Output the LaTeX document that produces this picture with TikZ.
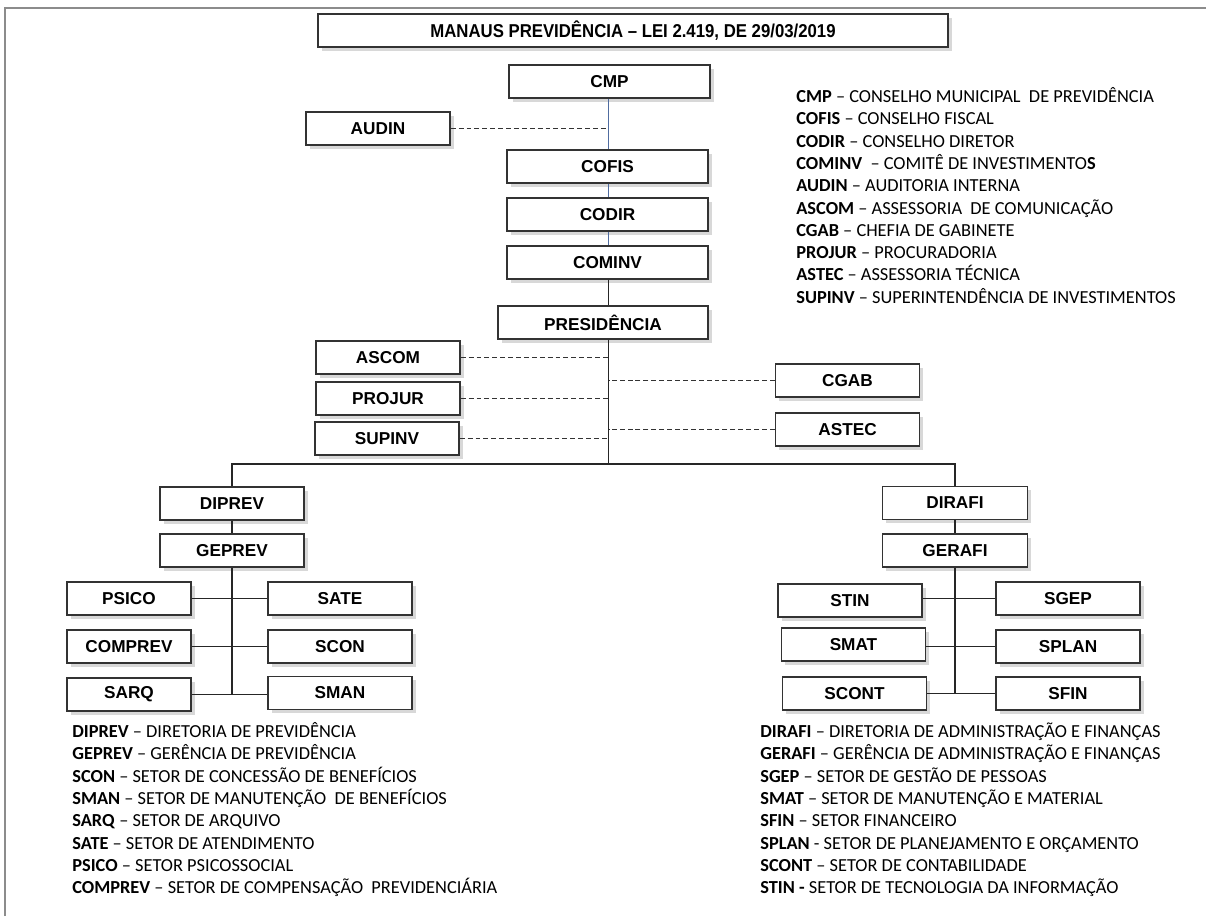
\documentclass[tikz,border=0pt]{standalone}
\usepackage{fontspec}
\setmainfont{Liberation Sans}
\newfontfamily\legfont{Carlito}
\newfontfamily\titlefont[FakeStretch=0.9]{Liberation Sans}
\usepackage{tikz}
\usepackage{xcolor}
\usetikzlibrary{positioning, shadows}
\definecolor{linkblue}{RGB}{80,108,160}
\definecolor{framegray}{RGB}{140,140,140}

\begin{document}
\begin{tikzpicture}[
            x=0.02cm, y=-0.02cm,
            box/.style={draw=black!80, line width=0.8pt, fill=white, minimum height=0.66cm, inner sep=0pt,
                font=\fontsize{9.8}{11}\selectfont\bfseries,
                drop shadow={shadow xshift=2.2pt, shadow yshift=-2.2pt, fill=black!30}},
            wide/.style={box, minimum width=4.02cm},
            mid/.style={box, minimum width=2.88cm},
            small/.style={box, minimum width=2.48cm},
            link/.style={line width=0.6pt, black!85},
            bluelink/.style={line width=0.6pt, linkblue},
            dashlink/.style={line width=0.6pt, black!80, dash pattern=on 2.8pt off 1.7pt},
            legend/.style={anchor=base west, inner sep=0pt, font=\legfont\fontsize{10.45}{12}\selectfont},
        ]
            \useasboundingbox (0,0) rectangle (1206,916);
            \draw[framegray, line width=1.2pt] (5,916) -- (5,8) -- (1206,8);

            \node[box, minimum width=12.6cm, font=\titlefont\fontsize{10.6}{12}\selectfont\bfseries] (title) at (633,30.5) {MANAUS PREVIDÊNCIA – LEI 2.419, DE 29/03/2019};

            \node[wide] (cmp) at (609.5,81.5) {CMP};
            \node[mid] (audin) at (378,128.5) {AUDIN};
            \node[wide] (cofis) at (607.5,166.5) {COFIS};
            \node[wide] (codir) at (607.5,214.5) {CODIR};
            \node[wide] (cominv) at (607.5,262.5) {COMINV};
            \node[box, minimum width=4.2cm] (presid) at (603,322.5) {PRESIDÊNCIA};

            \node[mid] (ascom) at (388,357.5) {ASCOM};
            \node[mid] (projur) at (388,398.5) {PROJUR};
            \node[mid] (supinv) at (387,438.5) {SUPINV};
            \node[mid] (cgab) at (847.5,380.5) {CGAB};
            \node[mid] (astec) at (847.5,429.5) {ASTEC};

            \coordinate (hub) at (608.5,464);

            \node[mid] (diprev) at (232,503.5) {DIPREV};
            \node[mid] (geprev) at (232,550.5) {GEPREV};
            \node[small] (psico) at (129,598.5) {PSICO};
            \node[small] (comprev) at (129,646.5) {COMPREV};
            \node[small] (sarq) at (129,694.5) {SARQ};
            \node[mid] (sate) at (340,598.5) {SATE};
            \node[mid] (scon) at (340,646.5) {SCON};
            \node[mid] (sman) at (340,693) {SMAN};

            \node[box, minimum width=2.9cm] (dirafi) at (955,503) {DIRAFI};
            \node[box, minimum width=2.9cm] (gerafi) at (955,550.5) {GERAFI};
            \node[mid] (stin) at (850,600.5) {STIN};
            \node[mid] (smat) at (853.5,644.5) {SMAT};
            \node[mid] (scont) at (854.5,693.5) {SCONT};
            \node[mid] (sgep) at (1068,598.5) {SGEP};
            \node[mid] (splan) at (1068,646.5) {SPLAN};
            \node[mid] (sfin) at (1068,693.5) {SFIN};

            \draw[bluelink] (cmp.south -| hub) -- (cofis.north -| hub);
            \draw[bluelink] (cofis.south -| hub) -- (codir.north -| hub);
            \draw[bluelink] (codir.south -| hub) -- (cominv.north -| hub);
            \draw[link] (cominv.south -| hub) -- (presid.north -| hub);
            \draw[link] (presid.south -| hub) -- (hub);
            \draw[link] (diprev.north) |- (hub) -| (dirafi.north);

            \draw[dashlink] (audin.east) -- (audin.east -| hub);
            \draw[dashlink] (ascom.east) -- (ascom.east -| hub);
            \draw[dashlink] (projur.east) -- (projur.east -| hub);
            \draw[dashlink] (supinv.east) -- (supinv.east -| hub);
            \draw[dashlink] (cgab.west) -- (cgab.west -| hub);
            \draw[dashlink] (astec.west) -- (astec.west -| hub);

            \draw[link] (diprev) -- (geprev);
            \draw[link] (geprev.south) -- (geprev.south |- sarq.east);
            \draw[link] (psico) -- (sate);
            \draw[link] (comprev) -- (scon);
            \draw[link] (sarq) -- (sman.west |- sarq.east);

            \draw[link] (dirafi) -- (gerafi);
            \draw[link] (gerafi.south) -- (gerafi.south |- sfin.west);
            \draw[link] (stin.east |- sgep.west) -- (sgep);
            \draw[link] (smat.east |- splan.west) -- (splan);
            \draw[link] (scont.east |- sfin.west) -- (sfin);

            \foreach \ab/\txt [count=\i from 0] in {
                CMP/– CONSELHO MUNICIPAL\ \ DE PREVIDÊNCIA,
                COFIS/– CONSELHO FISCAL,
                CODIR/– CONSELHO DIRETOR,
                COMINV/\ – COMITÊ DE INVESTIMENTO\textbf{S},
                AUDIN/– AUDITORIA INTERNA,
                ASCOM/– ASSESSORIA\ \ DE COMUNICAÇÃO,
                CGAB/– CHEFIA DE GABINETE,
                PROJUR/– PROCURADORIA,
                ASTEC/– ASSESSORIA\ TÉCNICA,
                SUPINV/– SUPERINTENDÊNCIA\ DE INVESTIMENTOS}
                \node[legend] (legtop\i) at (796,{102.5+22.3*\i}) {\textbf{\ab} \txt};

            \foreach \ab/\txt [count=\i from 0] in {
                DIPREV/– DIRETORIA DE PREVIDÊNCIA,
                GEPREV/– GERÊNCIA DE PREVIDÊNCIA,
                SCON/– SETOR DE CONCESSÃO DE BENEFÍCIOS,
                SMAN/– SETOR DE MANUTENÇÃO\ \ DE BENEFÍCIOS,
                SARQ/– SETOR DE ARQUIVO,
                SATE/– SETOR DE ATENDIMENTO,
                PSICO/– SETOR PSICOSSOCIAL,
                COMPREV/– SETOR DE COMPENSAÇÃO\ \ PREVIDENCIÁRIA}
                \node[legend] (legleft\i) at (72,{737.5+22.3*\i}) {\textbf{\ab} \txt};

            \foreach \ab/\txt [count=\i from 0] in {
                DIRAFI/– DIRETORIA DE ADMINISTRAÇÃO\ E FINANÇAS,
                GERAFI/– GERÊNCIA DE ADMINISTRAÇÃO\ E FINANÇAS,
                SGEP/– SETOR DE GESTÃO DE PESSOAS,
                SMAT/– SETOR DE MANUTENÇÃO\ E MATERIAL,
                SFIN/– SETOR FINANCEIRO,
                SPLAN/- SETOR DE PLANEJAMENTO\ E ORÇAMENTO,
                SCONT/– SETOR DE CONTABILIDADE,
                STIN -/SETOR DE TECNOLOGIA DA INFORMAÇÃO}
                \node[legend] (legright\i) at (760,{737.5+22.3*\i}) {\textbf{\ab} \txt};
        \end{tikzpicture}
\end{document}
